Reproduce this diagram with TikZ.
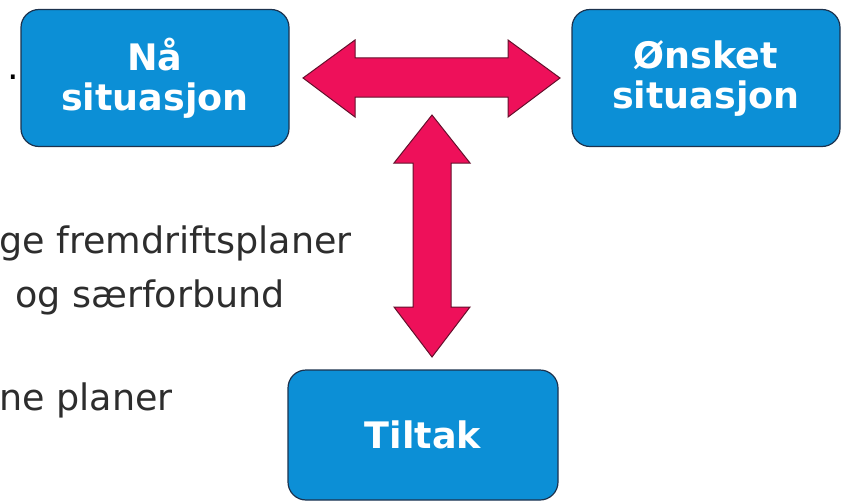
\documentclass[tikz,border=0pt]{standalone}
\usepackage{fontspec}
\setmainfont{DejaVu Sans}
\definecolor{boxblue}{RGB}{12,143,214}
\definecolor{boxedge}{RGB}{28,50,78}
\definecolor{arrowred}{RGB}{238,16,90}
\definecolor{arrowedge}{RGB}{100,16,44}
\definecolor{bodytext}{RGB}{45,45,45}
\begin{document}
\begin{tikzpicture}[x=1pt,y=-1pt,
  bluebox/.style={rounded corners=18pt, fill=boxblue, draw=boxedge, line width=1.2pt,
    text=white, align=center, inner sep=0pt,
    font=\fontsize{36.5}{40}\selectfont\bfseries,
    minimum width=268pt, minimum height=137pt},
  bodyline/.style={anchor=base west, inner sep=0pt, text=bodytext,
    font=\fontsize{36.5}{42}\selectfont},
  blockarrow/.style={fill=arrowred, draw=arrowedge, line width=1pt, line join=miter}]
\useasboundingbox (0,0) rectangle (841,503);
\node[bluebox] (now) at (155,78) {Nå\\situasjon};
\node[bluebox] (want) at (706,78) {Ønsket\\situasjon};
\node[bluebox, minimum width=270pt, minimum height=130pt] (act) at (423,435) {Tiltak};
\node[bodyline, text=black] (dot) at (7,80) {.};
\node[bodyline] (l1) at (-1,253) {ge fremdriftsplaner};
\node[bodyline] (l2) at (15,307) {og særforbund};
\node[bodyline] (l3) at (-1,410) {ne planer};
% horizontal double arrow
\draw[blockarrow] (303,78) -- (355,40) -- (355,58) -- (508,58) -- (508,40) -- (560,78)
  -- (508,117) -- (508,97) -- (355,97) -- (355,117) -- cycle;
% vertical double arrow
\draw[blockarrow] (432,115) -- (470,163) -- (451,163) -- (451,307) -- (470,307) -- (432,357)
  -- (394,307) -- (413,307) -- (413,163) -- (394,163) -- cycle;
\end{tikzpicture}
\end{document}
